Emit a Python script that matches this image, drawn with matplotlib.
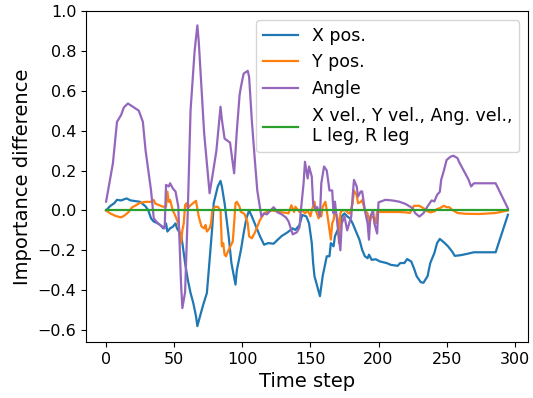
import numpy as np
import matplotlib.pyplot as plt

# X pos. (blue)
x_t = [0, 3, 6, 8, 11, 15, 18, 22, 25, 29, 31, 33, 35, 38, 40, 42, 44, 45, 47, 49, 51, 52, 55, 56, 58, 60, 62, 64,
       66, 67, 69, 71, 74, 76, 78, 79, 82, 84, 85, 87, 90, 92, 95, 96, 99, 101, 103, 105, 107, 110, 113, 116,
       119, 123, 126, 129, 133, 137, 139, 142, 144, 147, 149, 151, 152, 153, 155, 157, 158, 159, 161, 162, 164,
       165, 167, 168, 170, 172, 173, 175, 177, 179, 181, 183, 186, 188, 190, 192, 193, 195, 198, 201, 206, 209,
       214, 216, 219, 221, 224, 226, 228, 231, 233, 236, 238, 241, 243, 245, 248, 251, 254, 256, 260, 265, 270,
       279, 286, 295]
x_v = [0.0, 0.022, 0.036, 0.053, 0.05, 0.06, 0.05, 0.046, 0.043, 0.02, 0.0, -0.04, -0.056, -0.065, -0.075, -0.09,
       -0.065, -0.106, -0.09, -0.082, -0.065, -0.09, -0.122, -0.164, -0.264, -0.348, -0.414, -0.464, -0.53, -0.58,
       -0.53, -0.48, -0.414, -0.248, -0.08, 0.036, 0.12, 0.148, 0.12, 0.036, -0.13, -0.264, -0.372, -0.3, -0.198,
       -0.114, -0.04, 0.0, -0.03, -0.08, -0.13, -0.172, -0.164, -0.167, -0.147, -0.128, -0.111, -0.09, -0.098,
       -0.073, -0.023, -0.03, -0.065, -0.164, -0.264, -0.33, -0.38, -0.43, -0.38, -0.33, -0.264, -0.23, -0.23,
       -0.164, -0.18, -0.13, -0.098, -0.082, -0.03, -0.015, -0.03, -0.04, -0.065, -0.098, -0.147, -0.198, -0.23,
       -0.24, -0.222, -0.248, -0.245, -0.256, -0.264, -0.273, -0.278, -0.264, -0.264, -0.244, -0.256, -0.29,
       -0.33, -0.36, -0.363, -0.33, -0.264, -0.214, -0.164, -0.143, -0.16, -0.18, -0.206, -0.228, -0.225, -0.218,
       -0.21, -0.21, -0.21, -0.022]

# Y pos. (orange)
y_t = [0, 3, 7, 11, 13, 16, 19, 22, 25, 29, 33, 35, 36, 39, 42, 44, 45, 46, 47, 49, 51, 53, 55, 56, 57, 58, 59,
       60, 62, 65, 66, 68, 70, 72, 73, 74, 76, 77, 78, 80, 82, 84, 85, 86, 87, 88, 90, 93, 94, 95, 96, 98, 99,
       101, 102, 104, 105, 107, 109, 111, 113, 116, 118, 122, 127, 132, 134, 136, 138, 139, 142, 144, 146, 148,
       150, 151, 153, 154, 156, 157, 158, 159, 161, 162, 164, 165, 166, 167, 168, 170, 171, 172, 173, 176, 178,
       179, 181, 182, 184, 185, 187, 188, 190, 192, 193, 195, 197, 198, 199, 201, 208, 215, 220, 223, 226, 230,
       233, 236, 238, 241, 243, 245, 248, 250, 252, 254, 258, 264, 274, 286, 295]
y_v = [0.0, -0.015, -0.028, -0.035, -0.028, -0.012, 0.015, 0.026, 0.038, 0.043, 0.043, 0.052, 0.035, 0.026, 0.018,
       0.018, 0.094, 0.043, 0.052, 0.0, -0.03, -0.065, -0.164, -0.1, -0.065, 0.026, 0.036, 0.01, 0.026, 0.043,
       0.048, -0.03, -0.08, -0.09, -0.073, -0.106, -0.09, -0.065, 0.0, 0.018, 0.018, 0.0, -0.18, -0.164, -0.222,
       -0.23, -0.198, -0.156, -0.065, 0.036, 0.043, 0.018, -0.008, -0.015, -0.023, -0.065, -0.13, -0.14, -0.115,
       -0.082, -0.048, -0.015, -0.008, 0.0, -0.008, -0.012, -0.015, 0.026, -0.008, 0.018, -0.008, 0.0, -0.015,
       0.0, -0.03, 0.0, 0.043, 0.0, -0.04, -0.015, -0.03, 0.018, 0.043, 0.0, -0.098, -0.147, -0.065, -0.048, 0.0,
       -0.04, -0.164, -0.015, 0.0, 0.0, -0.015, -0.015, 0.036, 0.1, 0.075, 0.036, 0.043, 0.052, 0.0, -0.015,
       -0.065, -0.03, -0.04, -0.065, 0.0, -0.008, -0.008, -0.008, -0.01, -0.013, 0.023, 0.023, 0.011, -0.005,
       -0.01, -0.005, 0.007, 0.011, 0.023, 0.016, 0.016, 0.003, -0.013, -0.017, -0.018, -0.013, 0.0]

# Angle (purple)
a_t = [0, 5, 8, 11, 13, 16, 19, 24, 27, 29, 33, 35, 38, 41, 43, 44, 46, 47, 49, 51, 53, 55, 56, 58, 60, 62, 65,
       67, 68, 72, 76, 78, 81, 84, 85, 87, 90, 91, 94, 96, 98, 99, 101, 104, 105, 107, 109, 111, 114, 116, 118,
       121, 123, 126, 129, 132, 134, 137, 140, 142, 143, 145, 146, 148, 149, 151, 152, 154, 155, 157, 158, 160,
       162, 164, 166, 167, 168, 170, 172, 173, 175, 177, 180, 181, 182, 184, 185, 187, 188, 190, 192, 193, 194,
       196, 197, 199, 200, 205, 210, 215, 220, 225, 227, 230, 233, 236, 239, 241, 243, 245, 246, 248, 250, 253,
       255, 258, 259, 263, 266, 268, 270, 279, 286, 295]
a_v = [0.044, 0.236, 0.444, 0.478, 0.516, 0.536, 0.523, 0.5, 0.444, 0.3, 0.1, -0.04, -0.065, -0.08, -0.09, 0.128,
       0.12, 0.136, 0.11, 0.094, 0.02, -0.364, -0.49, -0.41, 0.0, 0.5, 0.8, 0.928, 0.85, 0.386, 0.086, 0.17, 0.3,
       0.52, 0.455, 0.36, 0.345, 0.34, 0.186, 0.4, 0.578, 0.62, 0.686, 0.7, 0.67, 0.45, 0.27, 0.1, -0.03, -0.015,
       -0.02, 0.002, 0.016, -0.01, -0.02, -0.035, -0.056, -0.12, -0.11, -0.085, 0.0, 0.136, 0.244, 0.16, 0.22,
       0.17, 0.035, 0.0, 0.017, -0.03, 0.136, 0.22, 0.2, 0.1, 0.1, -0.015, 0.044, -0.08, -0.2, -0.066, -0.03, -0.1,
       -0.03, 0.07, 0.153, 0.12, 0.07, 0.095, 0.095, 0.0, -0.066, -0.147, -0.03, 0.0, -0.066, -0.116, 0.04, 0.053,
       0.05, 0.044, 0.032, 0.011, -0.014, -0.031, -0.014, 0.02, 0.05, 0.045, 0.078, 0.093, 0.153, 0.2, 0.253,
       0.27, 0.274, 0.262, 0.245, 0.194, 0.156, 0.12, 0.136, 0.136, 0.136, 0.01]

# X vel., Y vel., Ang. vel., L leg, R leg (green, all zero)
rest_t = [0, 295]
rest_v = [0.0, 0.0]

fig = plt.figure(figsize=(5.33, 3.98), dpi=100)
ax = fig.add_axes([86 / 533, 1 - 342 / 398, 442 / 533, 331 / 398])

ax.plot(x_t, x_v, color='C0', lw=1.6, label="X pos.")
ax.plot(y_t, y_v, color='C1', lw=1.6, label="Y pos.")
ax.plot(a_t, a_v, color='C4', lw=1.6, label="Angle")
ax.plot(rest_t, rest_v, color='C2', lw=1.6, label="X vel., Y vel., Ang. vel.,\nL leg, R leg")

ax.set_xticks([0, 50, 100, 150, 200, 250, 300])
ax.set_yticks([-0.6, -0.4, -0.2, 0.0, 0.2, 0.4, 0.6, 0.8, 1.0])
ax.set_ylim(-0.66, 1.0)
ax.tick_params(labelsize=11.5)
ax.set_xlabel("Time step", fontsize=14)
ax.set_ylabel("Importance difference", fontsize=14)
ax.legend(loc='upper right', fontsize=12.5)

fig.savefig("out.png", dpi=100)
